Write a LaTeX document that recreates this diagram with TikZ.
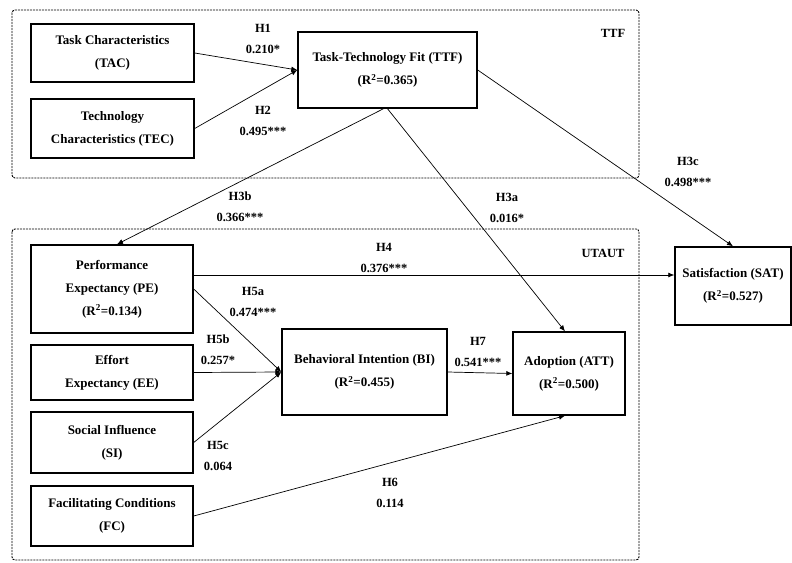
\documentclass[tikz,border=0pt]{standalone}
\usepackage{fontspec}
\setmainfont{Liberation Serif}
\usetikzlibrary{arrows.meta}
\begin{document}
\begin{tikzpicture}[x=1pt,y=-1pt,
 box/.style={draw, line width=1.4pt, rectangle, align=center, font=\fontsize{13}{23}\selectfont\bfseries, inner sep=0pt},
 lbl/.style={align=center, font=\fontsize{12.5}{21}\selectfont\bfseries, inner sep=0pt},
 arr/.style={-{Latex[length=6pt,width=5pt]}, line width=0.7pt},
 region/.style={draw, line width=0.9pt, dash pattern=on 2pt off 1pt, rounded corners=3pt}]
\useasboundingbox (0,0) rectangle (792,562);
\fill[white] (0,0) rectangle (792,562);
% regions
\draw[region] (12,10) rectangle (639,178);
\draw[region] (12,229) rectangle (639,560);
\node[lbl] (ttftitle) at (613,33) {TTF};
\node[lbl] (utauttitle) at (603,253) {UTAUT};
% boxes
\node[box, minimum width=163pt, minimum height=58pt] (tac) at (112.5,53) {Task Characteristics\\(TAC)};
\node[box, minimum width=163pt, minimum height=59pt] (tec) at (112.5,128.5) {Technology\\Characteristics (TEC)};
\node[box, minimum width=179pt, minimum height=76pt] (ttf) at (387.5,70) {Task-Technology Fit (TTF)\\(R\textsuperscript{2}=0.365)};
\node[box, minimum width=162pt, minimum height=88pt] (pe) at (112,289) {Performance\\Expectancy (PE)\\(R\textsuperscript{2}=0.134)};
\node[box, minimum width=162pt, minimum height=55pt] (ee) at (112,372.5) {Effort\\Expectancy (EE)};
\node[box, minimum width=162pt, minimum height=61pt] (si) at (112,442.5) {Social Influence\\(SI)};
\node[box, minimum width=162pt, minimum height=60pt] (fc) at (112,516) {Facilitating Conditions\\(FC)};
\node[box, minimum width=165pt, minimum height=86pt] (bi) at (364.5,372) {Behavioral Intention (BI)\\(R\textsuperscript{2}=0.455)};
\node[box, minimum width=112pt, minimum height=83pt] (att) at (569,373.5) {Adoption (ATT)\\(R\textsuperscript{2}=0.500)};
\node[box, minimum width=116pt, minimum height=78pt] (sat) at (733,286) {Satisfaction (SAT)\\(R\textsuperscript{2}=0.527)};
% connectors
\draw[arr] (tac.east) -- (ttf.west);
\draw[arr] (tec.east) -- (ttf.west);
\draw[arr] (ttf.east) -- (sat.north);
\draw[arr] ([xshift=-4pt]ttf.south) -- ([xshift=5pt]pe.north);
\draw[arr] (ttf.south) -- ([xshift=-4pt]att.north);
\draw[arr] ([yshift=14pt]pe.east) -- ([yshift=11pt]sat.west);
\draw[arr] (pe.east) -- (bi.west);
\draw[arr] (ee.east) -- (bi.west);
\draw[arr] (si.east) -- (bi.west);
\draw[arr] (bi.east) -- (att.west);
\draw[arr] (fc.east) -- ([xshift=-4pt]att.south);
% labels
\node[lbl] (h1) at (263,39) {H1\\0.210*};
\node[lbl] (h2) at (263,121) {H2\\0.495***};
\node[lbl] (h3b) at (240,207) {H3b\\0.366***};
\node[lbl] (h3a) at (507,208) {H3a\\0.016*};
\node[lbl] (h3c) at (688,172) {H3c\\0.498***};
\node[lbl] (h4) at (384,258) {H4\\0.376***};
\node[lbl] (h5a) at (253,302) {H5a\\0.474***};
\node[lbl] (h5b) at (218,350) {H5b\\0.257*};
\node[lbl] (h5c) at (218,456) {H5c\\0.064};
\node[lbl] (h7) at (478,352) {H7\\0.541***};
\node[lbl] (h6) at (390,493) {H6\\0.114};
\end{tikzpicture}
\end{document}
